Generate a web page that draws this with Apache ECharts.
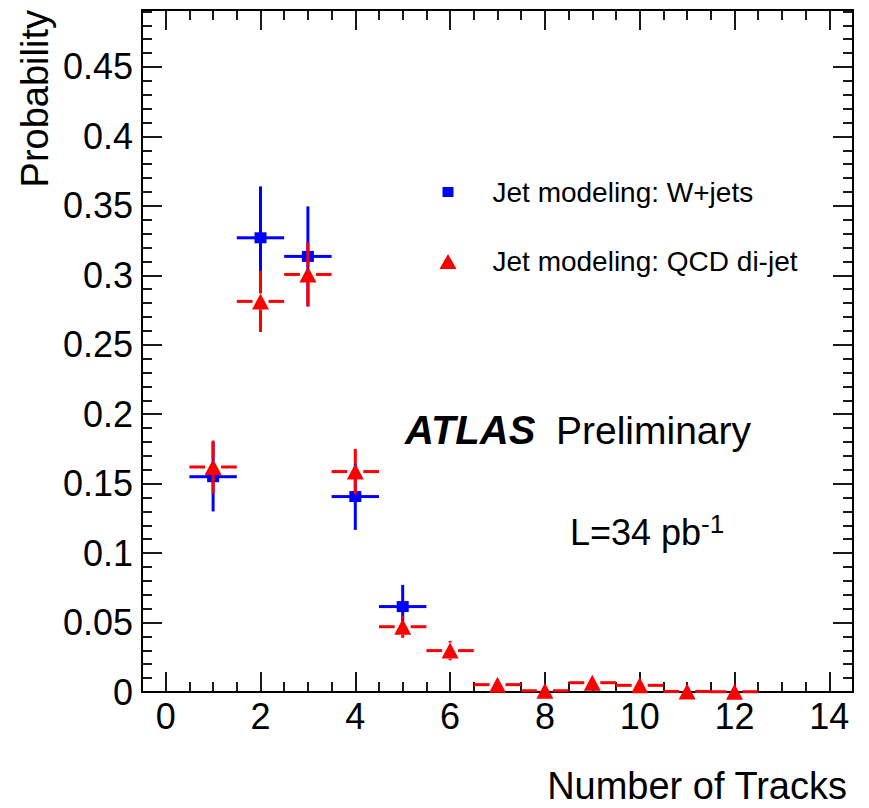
<!DOCTYPE html>
<html><head><meta charset="utf-8">
<script src="https://cdn.jsdelivr.net/npm/echarts@6/dist/echarts.min.js"></script>
<style>html,body{margin:0;padding:0;background:#fff}#c{width:869px;height:808px}</style>
</head><body><div id="c"></div><script>
const FONT = '"Liberation Sans", Arial, Helvetica, sans-serif';

// ---- data ----
const wjetsName = 'Jet modeling: W+jets';
const qcdName = 'Jet modeling: QCD di-jet';
const wjetsTracks = [1, 2, 3, 4, 5];
const wjetsProb = [0.155, 0.327, 0.3136, 0.1407, 0.0615];
const wjetsErr = [0.025, 0.037, 0.036, 0.024, 0.0156];
const qcdTracks = [1, 2, 3, 4, 5, 6, 7, 8, 9, 10, 11, 12];
const qcdProb = [0.162, 0.2812, 0.3006, 0.1587, 0.047, 0.0298, 0.0053, 0.0009, 0.0067, 0.0048, 0.0004, 0.0002];
const qcdErr = [0.019, 0.022, 0.023, 0.0163, 0.008, 0.007, 0.0015, 0.0008, 0.0015, 0.0015, 0.0005, 0.0005];
const binHalfWidth = 0.5;

// ---- ticks ----
const xMajorTicks = [0, 2, 4, 6, 8, 10, 12, 14];
const xTickLabels = ['0', '2', '4', '6', '8', '10', '12', '14'];
const xMinorTicks = [0.5, 1, 1.5, 2.5, 3, 3.5, 4.5, 5, 5.5, 6.5, 7, 7.5, 8.5, 9, 9.5, 10.5, 11, 11.5, 12.5, 13, 13.5];
const yMajorTicks = [0, 0.05, 0.1, 0.15, 0.2, 0.25, 0.3, 0.35, 0.4, 0.45];
const yTickLabels = ['0', '0.05', '0.1', '0.15', '0.2', '0.25', '0.3', '0.35', '0.4', '0.45'];
const yMinorTicks = [0.01, 0.02, 0.03, 0.04, 0.06, 0.07, 0.08, 0.09, 0.11, 0.12, 0.13, 0.14,
  0.16, 0.17, 0.18, 0.19, 0.21, 0.22, 0.23, 0.24, 0.26, 0.27, 0.28, 0.29, 0.31, 0.32, 0.33, 0.34,
  0.36, 0.37, 0.38, 0.39, 0.41, 0.42, 0.43, 0.44, 0.46, 0.47, 0.48, 0.49];
const xMin = -0.5, xMax = 14.5, yMin = 0, yMax = 0.491;

const AX = '#000';
function xAx(pos, values, len, labels) {
  return {
    type: 'value', position: pos, min: xMin, max: xMax,
    axisLine: { show: true, onZero: false, lineStyle: { color: AX, width: 2 } },
    axisTick: { show: true, inside: true, length: len, customValues: values, lineStyle: { color: AX, width: 1.8 } },
    axisLabel: labels ? {
      show: true, customValues: xMajorTicks, margin: 6,
      formatter: v => xTickLabels[xMajorTicks.indexOf(v)] ?? '',
      fontFamily: FONT, fontSize: 36, color: '#000'
    } : { show: false },
    splitLine: { show: false }
  };
}
function yAx(pos, values, len, labels) {
  return {
    type: 'value', position: pos, min: yMin, max: yMax,
    axisLine: { show: true, onZero: false, lineStyle: { color: AX, width: 2 } },
    axisTick: { show: true, inside: true, length: len, customValues: values, lineStyle: { color: AX, width: 1.8 } },
    axisLabel: labels ? {
      show: true, customValues: yMajorTicks, margin: 9,
      formatter: v => yTickLabels[yMajorTicks.indexOf(v)] ?? '',
      fontFamily: FONT, fontSize: 36, color: '#000'
    } : { show: false },
    splitLine: { show: false }
  };
}

function errRender(gap) {
  return function (params, api) {
    const x = api.value(0), y = api.value(1), e = api.value(2);
    const c = api.coord([x, y]);
    const l = api.coord([x - binHalfWidth, y]);
    const r = api.coord([x + binHalfWidth, y]);
    const t = api.coord([x, y + e]);
    const b = api.coord([x, y - e]);
    const color = api.visual('color');
    const st = { stroke: color, lineWidth: 3 };
    const ch = [];
    ch.push({ type: 'line', shape: { x1: l[0], y1: c[1], x2: c[0] - gap, y2: c[1] }, style: st });
    ch.push({ type: 'line', shape: { x1: c[0] + gap, y1: c[1], x2: r[0], y2: c[1] }, style: st });
    if (c[1] - gap > t[1]) ch.push({ type: 'line', shape: { x1: c[0], y1: t[1], x2: c[0], y2: c[1] - gap }, style: st });
    if (b[1] > c[1] + gap) ch.push({ type: 'line', shape: { x1: c[0], y1: c[1] + gap, x2: c[0], y2: b[1] }, style: st });
    return { type: 'group', children: ch };
  };
}

const chart = echarts.init(document.getElementById('c'), null, { renderer: 'svg' });
chart.setOption({
  animation: false,
  backgroundColor: '#fff',
  grid: { left: 142, top: 10, right: 16, bottom: 116, containLabel: false, outerBoundsMode: 'none' },
  xAxis: [
    xAx('bottom', xMajorTicks, 20, true),
    xAx('bottom', xMinorTicks, 10, false),
    xAx('top', xMajorTicks, 20, false),
    xAx('top', xMinorTicks, 10, false)
  ],
  yAxis: [
    yAx('left', yMajorTicks, 20, true),
    yAx('left', yMinorTicks, 10, false),
    yAx('right', yMajorTicks, 20, false),
    yAx('right', yMinorTicks, 10, false)
  ],
  legend: [
    {
      data: [{ name: wjetsName, icon: 'rect' }], orient: 'vertical', left: 442.5, top: 178,
      padding: 0, itemWidth: 11, itemHeight: 10, selectedMode: false,
      textStyle: { fontFamily: FONT, fontSize: 28, color: '#000', padding: [0, 0, 0, 34] }
    },
    {
      data: [{ name: qcdName, icon: 'triangle' }], orient: 'vertical', left: 439.5, top: 247.5,
      padding: 0, itemWidth: 17, itemHeight: 15, selectedMode: false,
      textStyle: { fontFamily: FONT, fontSize: 28, color: '#000', padding: [0, 0, 0, 31] }
    }
  ],
  series: [
    {
      name: 'wjets-err', type: 'custom', xAxisIndex: 0, yAxisIndex: 0, z: 2,
      itemStyle: { color: '#0000ff' }, renderItem: errRender(0),
      data: wjetsTracks.map((x, i) => [x, wjetsProb[i], wjetsErr[i]])
    },
    {
      name: wjetsName, type: 'scatter', xAxisIndex: 0, yAxisIndex: 0, z: 3,
      symbol: 'rect', symbolSize: [12, 11], itemStyle: { color: '#0000ff', opacity: 1 },
      data: wjetsTracks.map((x, i) => [x, wjetsProb[i]])
    },
    {
      name: 'qcd-err', type: 'custom', xAxisIndex: 0, yAxisIndex: 0, z: 4,
      itemStyle: { color: '#ff0000' }, renderItem: errRender(8),
      data: qcdTracks.map((x, i) => [x, qcdProb[i], qcdErr[i]])
    },
    {
      name: qcdName, type: 'scatter', xAxisIndex: 0, yAxisIndex: 0, z: 5, clip: false,
      symbol: 'triangle', symbolSize: [17, 16], itemStyle: { color: '#ff0000', opacity: 1 },
      data: qcdTracks.map((x, i) => [x, qcdProb[i]])
    }
  ],
  graphic: [
    { type: 'text', x: 35, y: 10, rotation: Math.PI / 2,
      style: { text: 'Probability', fontFamily: FONT, fontSize: 38, fill: '#000', align: 'right', verticalAlign: 'middle', textAlign: 'right', textVerticalAlign: 'middle' } },
    { type: 'text', x: 847, y: 786,
      style: { text: 'Number of Tracks', fontFamily: FONT, fontSize: 38, fill: '#000', align: 'right', verticalAlign: 'middle', textAlign: 'right', textVerticalAlign: 'middle' } },
    { type: 'text', x: 405, y: 430,
      style: { text: 'ATLAS', fontFamily: FONT, fontSize: 40, fontWeight: 'bold', fontStyle: 'italic', fill: '#000', align: 'left', verticalAlign: 'middle', textAlign: 'left', textVerticalAlign: 'middle' } },
    { type: 'text', x: 556, y: 430,
      style: { text: 'Preliminary', fontFamily: FONT, fontSize: 39, fill: '#000', align: 'left', verticalAlign: 'middle', textAlign: 'left', textVerticalAlign: 'middle' } },
    { type: 'text', x: 570, y: 532,
      style: { text: 'L=34 pb', fontFamily: FONT, fontSize: 36, fill: '#000', align: 'left', verticalAlign: 'middle', textAlign: 'left', textVerticalAlign: 'middle' } },
    { type: 'text', x: 701, y: 511,
      style: { text: '-1', fontFamily: FONT, fontSize: 26, fill: '#000', align: 'left', verticalAlign: 'top', textAlign: 'left', textVerticalAlign: 'top' } }
  ]
});
</script></body></html>
